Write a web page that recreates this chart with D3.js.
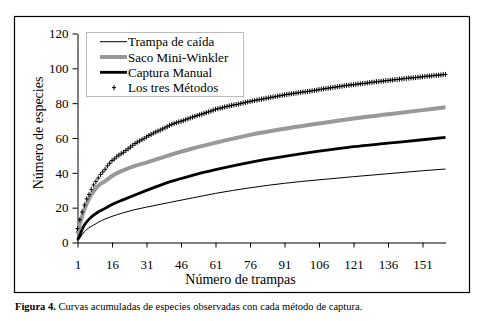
<!DOCTYPE html>
<html>
<head>
<meta charset="utf-8">
<script src="https://cdn.jsdelivr.net/npm/d3@7"></script>
<style>
  body { margin: 0; background: #fff; }
</style>
</head>
<body>
<div id="chart"></div>
<script>
// trap counts where the line curves were read
const traps = [1, 2, 3, 4, 6, 8, 10, 13, 16, 21, 26, 31, 41, 51, 61, 76, 91, 106, 121, 136, 151, 161];
const trampa = [1, 2.5, 4.5, 6.2, 8.5, 10, 11.6, 13.5, 15, 17.1, 18.9, 20.3, 23, 25.6, 28.2, 31.4, 34, 36, 37.8, 39.5, 41.2, 42.2];
const saco = [5, 10.5, 15, 19, 25, 29.3, 32.5, 35.3, 38.2, 41.5, 44, 45.9, 50.2, 54, 57.3, 61.8, 65.3, 68.3, 71.2, 73.6, 76, 77.6];
const manual = [1.5, 4, 7.5, 10, 13.3, 15.7, 17.5, 19.6, 21.8, 24.6, 27.3, 29.9, 34.8, 38.6, 41.8, 46, 49.4, 52.4, 55, 57, 59, 60.4];
// all three methods, one value per trap (1..161)
const tres = [
  8, 13, 17.5, 21.5, 25, 27.5, 30.5, 33, 35, 37,
  39, 40.5, 42, 44, 45.5, 47, 48, 49.2, 50.2, 51,
  51.8, 52.8, 53.8, 54.8, 55.8, 56.8, 57.6, 58.3, 59, 59.8,
  60.6, 61.4, 62.1, 62.8, 63.4, 64, 64.6, 65.2, 65.8, 66.5,
  67.3, 67.8, 68.3, 68.8, 69.2, 69.6, 70, 70.5, 71, 71.5,
  72, 72.4, 72.9, 73.3, 73.7, 74.1, 74.6, 75, 75.4, 76,
  76.5, 76.8, 77.1, 77.4, 77.8, 78.1, 78.4, 78.7, 79, 79.2,
  79.5, 79.8, 80.1, 80.4, 80.7, 81, 81.3, 81.5, 81.8, 82,
  82.3, 82.5, 82.8, 83, 83.3, 83.5, 83.8, 84, 84.3, 84.5,
  84.8, 85, 85.2, 85.4, 85.6, 85.8, 86, 86.2, 86.4, 86.5,
  86.7, 86.9, 87.1, 87.3, 87.5, 87.8, 88, 88.2, 88.4, 88.6,
  88.8, 89, 89.2, 89.4, 89.6, 89.8, 90, 90.2, 90.3, 90.5,
  90.6, 90.8, 91, 91.1, 91.3, 91.4, 91.6, 91.8, 92, 92.1,
  92.3, 92.4, 92.6, 92.7, 92.9, 93, 93.2, 93.3, 93.5, 93.6,
  93.8, 93.9, 94.1, 94.2, 94.4, 94.5, 94.6, 94.7, 94.9, 95,
  95.2, 95.3, 95.5, 95.6, 95.7, 95.9, 96, 96.1, 96.2, 96.4,
  96.5
];
const xTicks = [1, 16, 31, 46, 61, 76, 91, 106, 121, 136, 151];
const yTicks = [0, 20, 40, 60, 80, 100, 120];
const legendNames = ["Trampa de caída", "Saco Mini-Winkler", "Captura Manual", "Los tres Métodos"];

const serif = "'Liberation Serif'";
const W = 486, H = 321;
const margin = { top: 33.5, right: 40.5, bottom: 78.5, left: 77.5 },
      width = W - margin.left - margin.right,
      height = H - margin.top - margin.bottom;

const svg = d3.select("#chart")
  .append("svg")
  .attr("width", W)
  .attr("height", H);

// outer frame
svg.append("rect")
  .attr("x", 14.5).attr("y", 16.5)
  .attr("width", 455).attr("height", 276)
  .attr("fill", "none").attr("stroke", "#000").attr("stroke-width", 1.2);

const g = svg.append("g")
  .attr("transform", `translate(${margin.left},${margin.top})`);

const x = d3.scaleLinear().domain([1, 161]).range([0, width]);
const y = d3.scaleLinear().domain([0, 120]).range([height, 0]);

const xAxis = g.append("g")
  .attr("transform", `translate(0,${height})`)
  .call(d3.axisBottom(x).tickValues(xTicks).tickSize(5).tickPadding(12).tickSizeOuter(0));
const yAxis = g.append("g")
  .call(d3.axisLeft(y).tickValues(yTicks).tickSize(5).tickPadding(4).tickSizeOuter(0));

[xAxis, yAxis].forEach(a => {
  a.selectAll("text")
    .style("font-family", serif)
    .style("font-size", "13px")
    .attr("fill", "#000");
  a.selectAll("line").attr("stroke", "#000");
  a.select(".domain").attr("stroke", "#000");
});

// axis titles
g.append("text")
  .attr("text-anchor", "middle")
  .attr("x", width / 2 - 21)
  .attr("y", height + 41.5)
  .style("font-family", serif)
  .style("font-size", "14px")
  .text("Número de trampas");

g.append("text")
  .attr("text-anchor", "middle")
  .attr("transform", "rotate(-90)")
  .attr("x", -(height / 2) + 5)
  .attr("y", -35)
  .style("font-family", serif)
  .style("font-size", "14px")
  .text("Número de especies");

const line = d3.line()
  .x((d, i) => x(traps[i]))
  .y(d => y(d))
  .curve(d3.curveMonotoneX);

g.append("path").datum(trampa)
  .attr("fill", "none").attr("stroke", "#000").attr("stroke-width", 1)
  .attr("d", line);
g.append("path").datum(saco)
  .attr("fill", "none").attr("stroke", "#999").attr("stroke-width", 4)
  .attr("d", line);
g.append("path").datum(manual)
  .attr("fill", "none").attr("stroke", "#000").attr("stroke-width", 2.8)
  .attr("d", line);

const plus = "M-2,0H2M0,-2.5V2.5";
g.selectAll(".tres")
  .data(tres)
  .enter()
  .append("path")
  .attr("class", "tres")
  .attr("transform", (d, i) => `translate(${x(i + 1)},${y(d)})`)
  .attr("d", plus)
  .attr("stroke", "#000")
  .attr("stroke-width", 1)
  .attr("fill", "none");

// legend
const legend = svg.append("g");
legend.append("rect")
  .attr("x", 86.5).attr("y", 32.5)
  .attr("width", 157).attr("height", 64)
  .attr("fill", "#fff").attr("stroke", "#bbb").attr("stroke-width", 1);

const styles = [
  { w: 1, c: "#000" },
  { w: 4, c: "#999" },
  { w: 2.8, c: "#000" },
  null
];
legendNames.forEach((name, i) => {
  const ly = 41.7 + i * 15.3;
  if (styles[i]) {
    legend.append("line")
      .attr("x1", 100).attr("x2", 127)
      .attr("y1", ly).attr("y2", ly)
      .attr("stroke", styles[i].c).attr("stroke-width", styles[i].w);
  } else {
    legend.append("path")
      .attr("transform", `translate(114,${ly})`)
      .attr("d", plus)
      .attr("stroke", "#000").attr("fill", "none");
  }
  legend.append("text")
    .attr("x", 128)
    .attr("y", ly + 4.5)
    .style("font-family", serif)
    .style("font-size", "13px")
    .text(name);
});

// caption
const cap = svg.append("text")
  .attr("x", 15)
  .attr("y", 309.5)
  .style("font-family", serif)
  .style("font-size", "10.5px");
cap.append("tspan").attr("font-weight", "bold").text("Figura 4.");
cap.append("tspan").text(" Curvas acumuladas de especies observadas con cada método de captura.");
</script>
</body>
</html>
